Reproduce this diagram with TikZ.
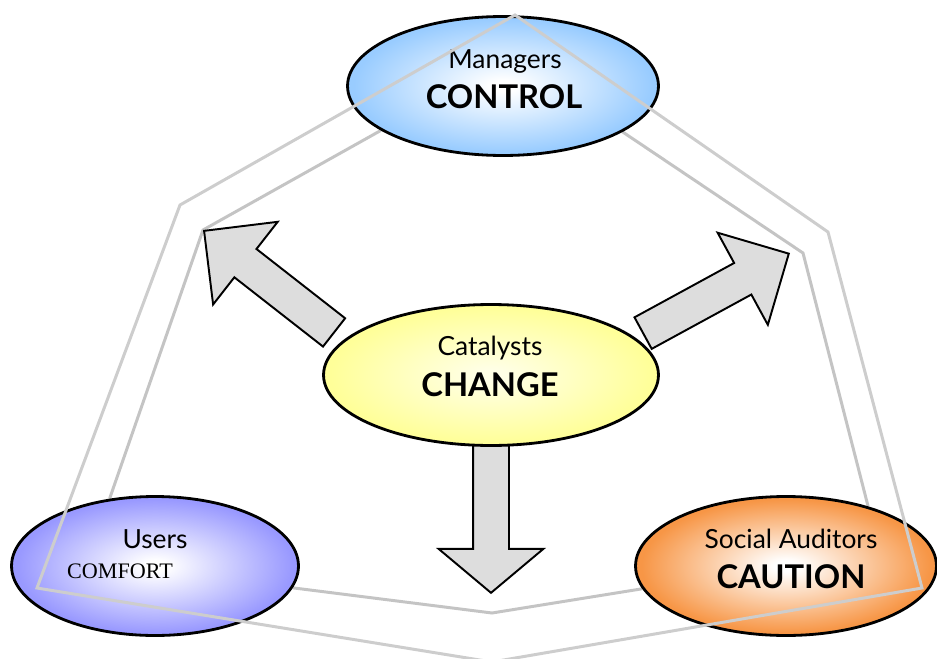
\documentclass[tikz,border=0pt]{standalone}
\usepackage{fontspec}
\setmainfont{Lato}
\newfontfamily\timesfont{Liberation Serif}
\usetikzlibrary{shapes.geometric,shapes.arrows,backgrounds}
\definecolor{mgrblue}{HTML}{99CCFF}
\definecolor{catyellow}{HTML}{FFFF99}
\definecolor{catpale}{HTML}{FFFFE6}
\definecolor{userblue}{HTML}{9999FF}
\definecolor{audorange}{HTML}{F79646}
\definecolor{linkgray}{HTML}{C4C4C4}
\definecolor{arrowgray}{HTML}{DDDDDD}
\colorlet{glowin}{white}
\colorlet{glowout}{white}
\pgfdeclareradialshading[glowin,glowout]{rolefill}{\pgfpoint{0bp}{0bp}}{color(0bp)=(glowin); color(2bp)=(glowin); color(24bp)=(glowout); color(50bp)=(glowout)}
\tikzset{
  role/.style={draw,ellipse,line width=1.6pt,inner sep=0pt},
  glow/.style 2 args={/utils/exec={\colorlet{glowin}{#1}\colorlet{glowout}{#2}},shading=rolefill},
  rolename/.style={anchor=base,font=\fontsize{15}{18}\selectfont},
  rolekey/.style={anchor=base,font=\fontsize{18.6}{22}\selectfont\bfseries},
  bigarrow/.style={draw,single arrow,fill=arrowgray,line width=1.1pt,inner xsep=0pt,inner ysep=0.34cm,
    single arrow head extend=0.69cm,minimum height=3.3cm},
  link/.style={draw=linkgray,line width=1.7pt},
}
\begin{document}
\begin{tikzpicture}[x=0.02cm,y=-0.02cm]
\useasboundingbox (0,0) rectangle (937,659);
% the four roles
\node[role,glow={white}{mgrblue},minimum width=6.22cm,minimum height=2.78cm] (M) at (503,86) {};
\node[role,glow={catpale}{catyellow},minimum width=6.7cm,minimum height=2.82cm] (C) at (491,375) {};
\node[role,glow={white}{userblue},minimum width=5.74cm,minimum height=2.78cm] (U) at (155,566) {};
\node[role,glow={white}{audorange},minimum width=6.02cm,minimum height=2.78cm] (S) at (786,566) {};
\node[rolename] (Mn) at (505,68) {Managers};
\node[rolekey] (Mk) at (504,108) {CONTROL};
\node[rolename] (Cn) at (490,355) {Catalysts};
\node[rolekey] (Ck) at (490,396) {CHANGE};
\node[rolename] (Un) at (155,548) {Users};
\node[anchor=base,font=\timesfont\fontsize{12.6}{15}\selectfont] (Uk) at (120,578) {COMFORT};
\node[rolename] (Sn) at (791,548) {Social Auditors};
\node[rolekey] (Sk) at (791,588) {CAUTION};
\coordinate (cL) at (203,230);
\coordinate (cB) at (492,613);
\coordinate (cR) at (803,253);
\coordinate (tipR) at (790,253);
\begin{scope}[on background layer]
\draw[link] (M.200) -- (cL) -- (U.124);
\draw[link] (U.351) -- (cB) -- (S.189);
\draw[link] (S.36) -- (cR) -- (M.339);
\node[bigarrow,rotate=142,anchor=tip] (AL) at (cL) {};
\node[bigarrow,rotate=28.6,minimum height=3.32cm,anchor=tip] (AR) at (tipR) {};
\node[bigarrow,rotate=-90,single arrow tip angle=100,minimum height=3.0cm,anchor=tail] (AD) at ([yshift=0.1cm]C.south) {};
\end{scope}
% outer frame
\draw[link,draw=linkgray!85] (515,15) -- (180,205) -- (37,588) -- (492,662) -- (922,588) -- (828,232) -- cycle;
\end{tikzpicture}
\end{document}
